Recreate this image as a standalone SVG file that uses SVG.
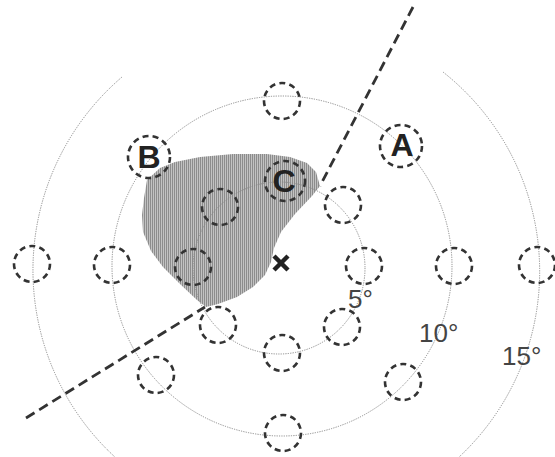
<svg xmlns="http://www.w3.org/2000/svg" width="555" height="457" viewBox="0 0 555 457">
  <style>
    .ring { fill: none; stroke: #8a8a8a; stroke-width: 1; stroke-dasharray: 1.2 1.2; }
    .spot { fill: none; stroke: #333; stroke-width: 2.6; stroke-dasharray: 6 4.2; }
    .ray { fill: none; stroke: #333; stroke-width: 2.8; stroke-dasharray: 10 5.5; }
    .lbl { font-family: "Liberation Sans", Arial, sans-serif; font-weight: bold; font-size: 32px; fill: #222; text-anchor: middle; }
    .deg { font-family: "Liberation Sans", Arial, sans-serif; font-size: 26px; fill: #444; }
  </style>
  <defs>
    <pattern id="hatch" width="2" height="4" patternUnits="userSpaceOnUse">
      <rect width="2" height="4" fill="#c2c2c2"/>
      <rect width="1" height="4" fill="#8c8c8c"/>
    </pattern>
  </defs>
  <rect width="555" height="457" fill="#fff"/>

  <g id="scotoma">
    <path d="M147,180 L160,168 L175,162 L200,157 L233,154 L267,154 L290,157 L307,163 L316,172 L320,186 L312,196 L295,214 L281,232 L274,248 L271,262 L265,275 L253,287 L237,297 L218,304 L206,307 L197,300 L180,284 L163,267 L151,251 L143,232 L142,215 L144,198 Z" fill="url(#hatch)"/>
  </g>

  <g id="rings">
    <circle id="ring5" class="ring" cx="279" cy="268" r="86"/>
    <circle id="ring10" class="ring" cx="282" cy="266" r="170"/>
    <path id="ring15-left" class="ring" d="M122,77 A254 254 0 0 0 116,458"/>
    <path id="ring15-right" class="ring" d="M443,72 A254 254 0 0 1 458,458"/>
  </g>

  <g id="connectors">
    <line class="ray" x1="413" y1="7" x2="320" y2="186"/>
    <line class="ray" x1="26" y1="418" x2="205" y2="307"/>
  </g>

  <g id="inner-spots">
    <circle id="s5-r" class="spot" cx="364" cy="266" r="18"/>
    <circle id="s5-ur" class="spot" cx="343" cy="205" r="18"/>
    <circle id="s5-lr" class="spot" cx="342" cy="327" r="18"/>
    <circle id="s5-b" class="spot" cx="282" cy="353" r="18"/>
    <circle id="s5-ll" class="spot" cx="218" cy="325" r="18"/>
    <circle id="s5-l" class="spot" cx="193" cy="267" r="18"/>
    <circle id="s5-ul" class="spot" cx="220" cy="207" r="18"/>
  </g>

  <g id="spot-C">
    <circle class="spot" cx="285" cy="181" r="20"/>
    <text class="lbl" x="284" y="192">C</text>
  </g>

  <g id="middle-spots">
    <circle id="s10-t" class="spot" cx="282" cy="101" r="18"/>
    <circle id="s10-r" class="spot" cx="454" cy="266" r="18"/>
    <circle id="s10-lr" class="spot" cx="403" cy="382" r="18"/>
    <circle id="s10-b" class="spot" cx="283" cy="433" r="18"/>
    <circle id="s10-ll" class="spot" cx="156" cy="375" r="18"/>
    <circle id="s10-l" class="spot" cx="112" cy="265" r="18"/>
  </g>

  <g id="spot-A">
    <circle class="spot" cx="401" cy="146" r="21"/>
    <text class="lbl" x="402" y="156">A</text>
  </g>

  <g id="spot-B">
    <circle class="spot" cx="149" cy="157" r="21"/>
    <text class="lbl" x="149" y="168">B</text>
  </g>

  <g id="outer-spots">
    <circle id="s15-l" class="spot" cx="32" cy="264" r="18"/>
    <circle id="s15-r" class="spot" cx="537" cy="265" r="18"/>
  </g>

  <g id="fixation">
    <line x1="274" y1="256" x2="288" y2="270" stroke="#222" stroke-width="4.5"/>
    <line x1="288" y1="256" x2="274" y2="270" stroke="#222" stroke-width="4.5"/>
  </g>

  <g id="labels">
    <text class="deg" x="348" y="308">5°</text>
    <text class="deg" x="419" y="342">10°</text>
    <text class="deg" x="502" y="365">15°</text>
  </g>
</svg>
